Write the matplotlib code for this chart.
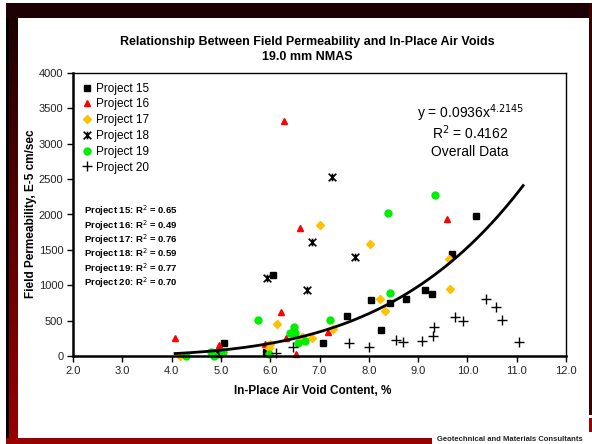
import numpy as np
import matplotlib
matplotlib.use("Agg")
import matplotlib.pyplot as plt
from matplotlib.path import Path
from matplotlib.patches import Rectangle

plt.rcParams['font.family'] = ['Liberation Sans', 'DejaVu Sans']

# ---- data ----
p15_x = [4.97, 5.06, 5.91, 6.06, 7.08, 7.56, 8.04, 8.25, 8.42, 8.76, 9.15, 9.28, 9.68, 10.17]
p15_y = [28, 178, 56, 1141, 183, 559, 789, 370, 756, 807, 930, 873, 1437, 1972]
p16_x = [4.07, 4.96, 5.89, 6.22, 6.29, 6.33, 6.47, 6.53, 6.60, 7.17, 9.59]
p16_y = [249, 150, 169, 624, 3320, 249, 399, 28, 1812, 334, 1939]
p17_x = [4.17, 5.98, 5.99, 6.14, 6.65, 6.85, 7.02, 7.27, 8.03, 8.23, 8.33, 9.63, 9.65]
p17_y = [0, 108, 169, 451, 272, 258, 1850, 380, 1582, 803, 643, 1376, 953]
p18_x = [5.94, 6.75, 6.84, 7.25, 7.71]
p18_y = [1103, 939, 1610, 2535, 1394]
p19_x = [4.29, 4.80, 4.87, 5.04, 5.76, 5.97, 6.40, 6.48, 6.51, 6.57, 6.71, 7.21, 8.38, 8.44, 9.34]
p19_y = [0, 52, 5, 52, 507, 24, 328, 413, 328, 187, 207, 507, 2019, 897, 2277]
p20_x = [6.12, 6.47, 7.59, 8.01, 8.55, 8.69, 9.08, 9.31, 9.33, 9.75, 9.92, 10.38, 10.59, 10.71, 11.04]
p20_y = [46, 131, 179, 131, 221, 193, 211, 282, 413, 549, 489, 803, 690, 511, 197]

fit_a = 0.0936
fit_b = 4.2145
fit_range = [4.07, 11.13]

r2_labels = ["Project 15", "Project 16", "Project 17", "Project 18", "Project 19", "Project 20"]
r2_values = ["0.65", "0.49", "0.76", "0.59", "0.77", "0.70"]

x_ticks = [2.0, 3.0, 4.0, 5.0, 6.0, 7.0, 8.0, 9.0, 10.0, 11.0, 12.0]
y_ticks = [0, 500, 1000, 1500, 2000, 2500, 3000, 3500, 4000]

W, H = 592, 444
fig = plt.figure(figsize=(W / 100, H / 100), dpi=100)
fig.patch.set_facecolor('white')

def fx(px):
    return px / W

def fy(py):
    return 1 - py / H

# ---- frame decoration ----
maroon = '#990000'
n = 440
grad = np.zeros((n, 9, 3))
t = np.linspace(0, 1, n)[:, None]
grad[:, :, 0] = (0.10 + 0.50 * t)
fig.figimage(grad, xo=9, yo=1, origin='upper', zorder=0)
fig.add_artist(Rectangle((fx(6), fy(443)), 3 / W, 440 / H, transform=fig.transFigure,
                         color='black', lw=0, zorder=1))
fig.add_artist(Rectangle((fx(6), fy(18)), (W - 6) / W, 15 / H, transform=fig.transFigure,
                         color='#1c0003', lw=0, zorder=1))
fig.add_artist(Rectangle((fx(6), fy(444)), (432 - 6) / W, 6 / H, transform=fig.transFigure,
                         color=maroon, lw=0, zorder=1))
fig.add_artist(Rectangle((fx(589), fy(415)), 3 / W, (415 - 3) / H, transform=fig.transFigure,
                         color='#3a0000', lw=0, zorder=1))
fig.add_artist(Rectangle((fx(589), fy(432)), 3 / W, 14 / H, transform=fig.transFigure,
                         color=maroon, lw=0, zorder=1))
fig.text(fx(437), fy(439.5), "Geotechnical and Materials Consultants", fontsize=5.5,
         fontweight='bold', color='#222222', ha='left', va='center')

# ---- axes ----
ax = fig.add_axes([fx(73), fy(356), (566 - 73) / W, (356 - 73) / H])
ax.set_xlim(2.0, 12.0)
ax.set_ylim(0, 4000)

star = Path([(-1, -1), (1, 1), (-1, 1), (1, -1), (0, -1), (0, 1)],
            [Path.MOVETO, Path.LINETO, Path.MOVETO, Path.LINETO, Path.MOVETO, Path.LINETO])

ax.plot(p15_x, p15_y, ls='none', marker='s', ms=4.5, color='black', label='Project 15', clip_on=False, zorder=3)
ax.plot(p16_x, p16_y, ls='none', marker='^', ms=5, color='#ff0000', label='Project 16', clip_on=False, zorder=3)
ax.plot(p17_x, p17_y, ls='none', marker='D', ms=4, color='#ffc000', label='Project 17', clip_on=False, zorder=3)
ax.plot(p18_x, p18_y, ls='none', marker=star, ms=5.5, mew=1.2, color='black', label='Project 18', clip_on=False, zorder=3)
ax.plot(p19_x, p19_y, ls='none', marker='o', ms=5, color='#00ee00', label='Project 19', clip_on=False, zorder=3)
ax.plot(p20_x, p20_y, ls='none', marker='+', ms=7, mew=1.0, color='black', label='Project 20', clip_on=False, zorder=3)

xf = np.linspace(fit_range[0], fit_range[1], 200)
ax.plot(xf, fit_a * xf ** fit_b, color='black', lw=2, zorder=4)

ax.set_xticks(x_ticks)
ax.set_xticklabels([f"{v:.1f}" for v in x_ticks])
ax.set_yticks(y_ticks)
ax.set_yticklabels([str(v) for v in y_ticks])
ax.tick_params(axis='both', direction='out', length=4, width=1, labelsize=8,
               colors='black', labelcolor='#222222', pad=3)
for s in ['left', 'bottom']:
    ax.spines[s].set_linewidth(1.8)
for s in ['top', 'right']:
    ax.spines[s].set_linewidth(1.0)
for s in ax.spines.values():
    s.set_zorder(5)

leg = ax.legend(loc='upper left', frameon=False, fontsize=8.5, handlelength=0.6,
                handletextpad=0.4, labelspacing=0.32, borderaxespad=0.3,
                bbox_to_anchor=(0.005, 0.995))

for i, (lab, val) in enumerate(zip(r2_labels, r2_values)):
    fig.text(fx(84), fy(211 + i * 14.3), f"{lab}: R$^2$ = {val}", fontsize=6.8,
             fontweight='bold', ha='left', va='center')

fig.text(fx(470), fy(113), f"y = {fit_a}x$^{{{fit_b}}}$", fontsize=10, ha='center', va='center')
fig.text(fx(470), fy(133), "R$^2$ = 0.4162", fontsize=10, ha='center', va='center')
fig.text(fx(470), fy(152), "Overall Data", fontsize=10, ha='center', va='center')

fig.text(fx(307), fy(42), "Relationship Between Field Permeability and In-Place Air Voids",
         fontsize=9, fontweight='bold', ha='center', va='center')
fig.text(fx(307), fy(57), "19.0 mm NMAS", fontsize=9, fontweight='bold', ha='center', va='center')

fig.text(fx(313), fy(391), "In-Place Air Void Content, %", fontsize=8.5, fontweight='bold',
         ha='center', va='center')
fig.text(fx(31), fy(214), "Field Permeability, E-5 cm/sec", fontsize=8.5, fontweight='bold',
         ha='center', va='center', rotation=90)

fig.savefig("out.png", dpi=100)
